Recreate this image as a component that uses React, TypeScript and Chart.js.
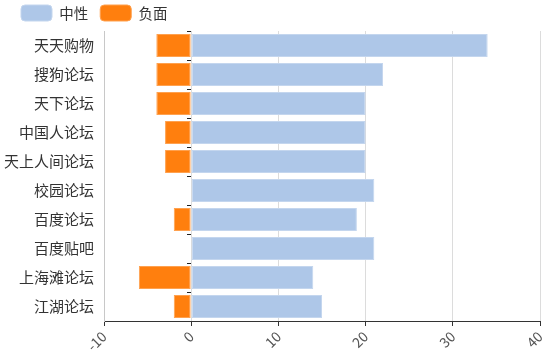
import React, { useEffect, useRef } from "react";
import { Chart, registerables } from "chart.js";

Chart.register(...registerables);

const categories = ["天天购物", "搜狗论坛", "天下论坛", "中国人论坛", "天上人间论坛", "校园论坛", "百度论坛", "百度贴吧", "上海滩论坛", "江湖论坛"];
const neutralValues = [34, 22, 20, 20, 20, 21, 19, 21, 14, 15];
const negativeValues = [-4, -4, -4, -3, -3, 0, -2, 0, -6, -2];
const seriesNames = ["中性", "负面"];
const xMin = -10;
const xMax = 40;
const xStep = 10;

const FONT = "'Noto Sans CJK SC', 'Noto Sans', sans-serif";

const legendShift = {
  id: "legendShift",
  afterLayout(chart: any) {
    if (chart.legend) chart.legend.left += 9;
  },
};

export default function App() {
  const ref = useRef<HTMLCanvasElement | null>(null);
  useEffect(() => {
    const canvas = ref.current;
    if (!canvas) return;
    const chart = new Chart(canvas, {
      type: "bar",
      data: {
        labels: categories,
        datasets: [
          {
            label: seriesNames[0],
            data: neutralValues,
            backgroundColor: "#aec7e8",
            borderColor: "#c4d6ee",
            borderWidth: 1,
            borderSkipped: false,
            categoryPercentage: 1,
            barPercentage: 0.8,
            stack: "s",
          },
          {
            label: seriesNames[1],
            data: negativeValues,
            backgroundColor: "#ff7f0e",
            borderColor: "#ffa14f",
            borderWidth: 1,
            borderSkipped: false,
            categoryPercentage: 1,
            barPercentage: 0.8,
            stack: "s",
          },
        ],
      },
      plugins: [legendShift],
      options: {
        indexAxis: "y",
        animation: false,
        responsive: false,
        maintainAspectRatio: false,
        layout: { padding: { left: 0, right: 16, top: -7, bottom: 0 } },
        plugins: {
          tooltip: { enabled: false },
          legend: {
            position: "top",
            align: "start",
            labels: {
              boxWidth: 31,
              boxHeight: 16,
              useBorderRadius: true,
              borderRadius: 4,
              padding: 12,
              color: "#333",
              font: { family: FONT, size: 14.5 },
            },
          },
        },
        scales: {
          x: {
            type: "linear",
            min: xMin,
            max: xMax,
            stacked: true,
            ticks: {
              stepSize: xStep,
              minRotation: 45,
              maxRotation: 45,
              color: "#555",
              font: { family: FONT, size: 14 },
              padding: 2,
            },
            grid: {
              color: "#dcdcdc",
              tickColor: "#333",
              tickLength: 5,
            },
            border: { display: true, color: "#333", width: 1 },
            afterFit: (s: any) => {
              s.height = 34;
            },
          },
          y: {
            type: "category",
            stacked: true,
            offset: true,
            ticks: {
              color: "#333",
              font: { family: FONT, size: 15 },
              padding: 10,
            },
            grid: { display: true, drawOnChartArea: false, drawTicks: false },
            border: { display: true, color: "#c8c8c8", width: 1 },
            afterFit: (s: any) => {
              s.width = 104;
            },
          },
          y2: {
            type: "category",
            labels: categories,
            position: { x: 0 } as any,
            offset: true,
            ticks: { display: false },
            grid: {
              display: true,
              offset: true,
              drawOnChartArea: false,
              drawTicks: true,
              tickLength: 4,
              tickColor: "#222",
            },
            border: { display: false },
          },
        },
      },
    });
    return () => chart.destroy();
  }, []);
  return (
    <div style={{ position: "fixed", left: 0, top: 0, width: 556, height: 355, background: "#fff" }}>
      <canvas ref={ref} width={556} height={355} style={{ width: 556, height: 355, display: "block" }} />
    </div>
  );
}
